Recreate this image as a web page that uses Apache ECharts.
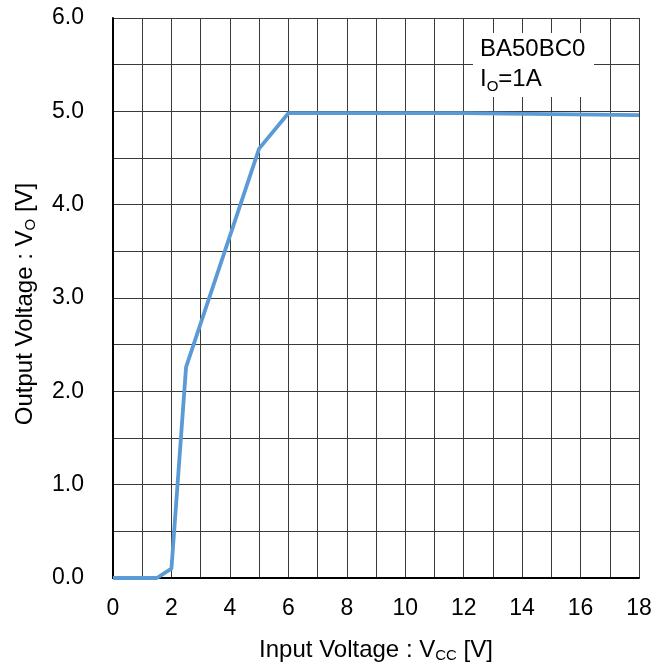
<!DOCTYPE html>
<html><head><meta charset="utf-8">
<script src="https://cdn.jsdelivr.net/npm/echarts@6/dist/echarts.min.js"></script>
<style>html,body{margin:0;padding:0;background:#fff}#c{width:664px;height:667px}</style>
</head><body><div id="c"></div>
<script>
const vcc = [0, 1.5, 2.0, 2.5, 5.0, 6.0, 12, 18];
const vo  = [0, 0, 0.1, 2.26, 4.6, 4.98, 4.98, 4.96];
const xTicks = [0, 2, 4, 6, 8, 10, 12, 14, 16, 18];
const yTicks = [0, 1, 2, 3, 4, 5, 6];
const noteLine1 = 'BA50BC0';
const noteLine2 = 'I{sub|O}=1A';

const FONT = 'Liberation Sans, Arial, sans-serif';
const subStyle = {fontSize: 15, verticalAlign: 'bottom', padding: [11, 0, 0, 0], fontFamily: FONT, color: '#000'};
const chart = echarts.init(document.getElementById('c'));
chart.setOption({
  animation: false,
  grid: {left: 113, right: 25, top: 18, bottom: 89, show: false, containLabel: false, outerBoundsMode: 'none'},
  xAxis: {
    type: 'value', min: 0, max: 18, interval: 1,
    name: 'Input Voltage : V{sub|CC} [V]', nameLocation: 'middle', nameGap: 59,
    nameTextStyle: {fontFamily: FONT, fontSize: 24, color: '#000', rich: {sub: subStyle}},
    axisLine: {show: true, onZero: false, lineStyle: {color: '#000', width: 2}},
    axisTick: {show: false},
    axisLabel: {fontFamily: FONT, fontSize: 23, color: '#000', margin: 19,
      formatter: v => xTicks.includes(v) ? String(v) : ''},
    splitLine: {show: true, lineStyle: {color: '#3a3a3a', width: 1}}
  },
  yAxis: {
    type: 'value', min: 0, max: 6, interval: 0.5,
    name: 'Output Voltage : V{sub|O} [V]', nameLocation: 'middle', nameGap: 75,
    nameTextStyle: {fontFamily: FONT, fontSize: 24, color: '#000', rich: {sub: subStyle}, padding: [0, 12, 0, 0]},
    axisLine: {show: true, onZero: false, lineStyle: {color: '#000', width: 2}},
    axisTick: {show: false},
    axisLabel: {fontFamily: FONT, fontSize: 23, color: '#000', margin: 29,
      formatter: v => yTicks.includes(v) ? v.toFixed(1) : ''},
    splitLine: {show: true, lineStyle: {color: '#3a3a3a', width: 1}}
  },
  graphic: [
    {type: 'rect', left: 473, top: 33, shape: {width: 121, height: 64}, style: {fill: '#fff'}, z: 10},
    {type: 'text', left: 480, top: 34, z: 11,
      style: {text: noteLine1 + '\n' + noteLine2, fontFamily: FONT, fontSize: 24, fill: '#000', lineHeight: 30,
        rich: {sub: Object.assign({}, subStyle, {fill: '#000'})}}}
  ],
  series: [{
    type: 'line', data: vcc.map((x, i) => [x, vo[i]]), symbol: 'none',
    lineStyle: {color: '#5B9BD5', width: 3.8}, z: 5
  }]
});
</script></body></html>
